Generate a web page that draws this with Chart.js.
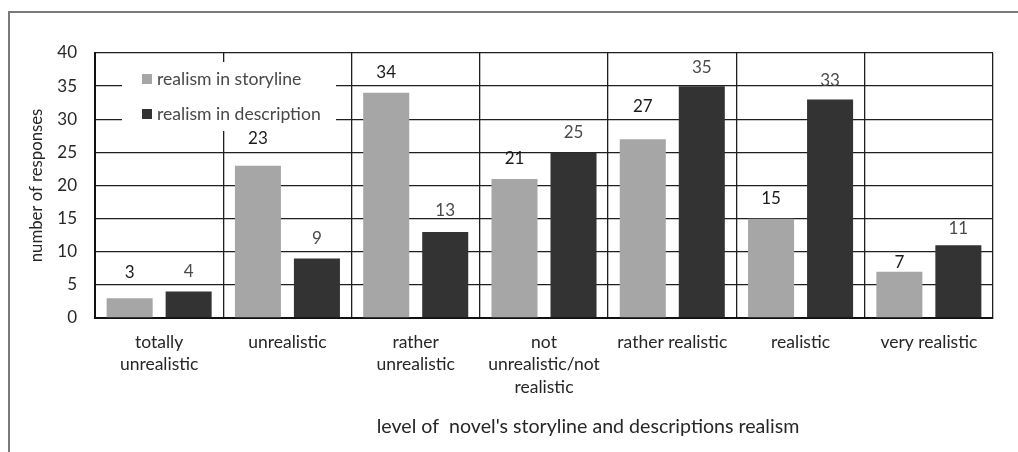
<!DOCTYPE html>
<html>
<head>
<meta charset="utf-8">
<script src="https://cdn.jsdelivr.net/npm/chart.js@4/dist/chart.umd.min.js"></script>
<style>
  html, body { margin: 0; padding: 0; background: #fff; }
  #wrap { position: relative; width: 1018px; height: 452px; }
  canvas { display: block; }
</style>
</head>
<body>
<div id="wrap"><canvas id="chart" width="1018" height="452"></canvas></div>
<script>
// Response categories along the x axis
const categories = [
  ["totally", "unrealistic"],
  "unrealistic",
  ["rather", "unrealistic"],
  ["not", "unrealistic/not", "realistic"],
  "rather realistic",
  "realistic",
  "very realistic"
];

// Number of responses per category
const storylineValues   = [3, 23, 34, 21, 27, 15, 7];
const descriptionValues = [4, 9, 13, 25, 35, 33, 11];

const seriesNames = ["realism in storyline", "realism in description"];

// y axis ticks
const yTicks = [0, 5, 10, 15, 20, 25, 30, 35, 40];

const yTitle = "number of responses";
const xTitle = "level of  novel's storyline and descriptions realism";

const FONT = "Lato, 'Open Sans', sans-serif";
const INK = "#262626";

// extra lift (px) of each value label above its bar, per category [storyline, description]
const labelLift = [[26, 20], [27, 20], [20, 21], [20, 20], [33, 19], [20, 19], [9, 17]];

const frame = {
  id: "frame",
  beforeDraw(chart) {
    const ctx = chart.ctx;
    ctx.save();
    ctx.fillStyle = "#fff";
    ctx.fillRect(0, 0, chart.width, chart.height);
    ctx.strokeStyle = "#7a7a7a";
    ctx.lineWidth = 2;
    ctx.beginPath();
    ctx.moveTo(9, chart.height);
    ctx.lineTo(9, 12);
    ctx.lineTo(chart.width, 12);
    ctx.stroke();
    ctx.restore();
  }
};

const valueLabels = {
  id: "valueLabels",
  afterDatasetsDraw(chart) {
    const ctx = chart.ctx;
    ctx.save();
    ctx.font = "17px " + FONT;
    ctx.textAlign = "center";
    ctx.textBaseline = "middle";
    chart.data.datasets.forEach((ds, di) => {
      const meta = chart.getDatasetMeta(di);
      ctx.fillStyle = di === 0 ? "#1a1a1a" : "#4a4a4a";
      meta.data.forEach((bar, i) => {
        ctx.fillText(String(ds.data[i]), bar.x, bar.y - labelLift[i][di]);
      });
    });
    ctx.restore();
  }
};

const innerLegend = {
  id: "innerLegend",
  afterDatasetsDraw(chart) {
    const ctx = chart.ctx;
    const a = chart.chartArea;
    const x0 = a.left + 27, y0 = a.top + 9, w = 214, h = 69;
    ctx.save();
    ctx.fillStyle = "#fff";
    ctx.fillRect(x0, y0, w, h);
    ctx.font = "17.6px " + FONT;
    ctx.textBaseline = "middle";
    ctx.textAlign = "left";
    chart.data.datasets.forEach((ds, i) => {
      const cy = y0 + 17 + i * 35;
      ctx.fillStyle = ds.backgroundColor;
      ctx.fillRect(x0 + 20, cy - 5, 10, 10);
      ctx.fillStyle = "#484848";
      ctx.fillText(ds.label, x0 + 35, cy);
    });
    ctx.restore();
  }
};

const axisTitleX = {
  id: "axisTitleX",
  afterDraw(chart) {
    const ctx = chart.ctx;
    const a = chart.chartArea;
    ctx.save();
    ctx.font = "19.6px " + FONT;
    ctx.fillStyle = INK;
    ctx.textAlign = "center";
    ctx.textBaseline = "middle";
    ctx.fillText(xTitle, (a.left + a.right) / 2 + 44, 427);
    ctx.restore();
  }
};

new Chart(document.getElementById("chart"), {
  type: "bar",
  data: {
    labels: categories,
    datasets: [
      { label: seriesNames[0], data: storylineValues, backgroundColor: "#a6a6a6" },
      { label: seriesNames[1], data: descriptionValues, backgroundColor: "#333333" }
    ]
  },
  options: {
    responsive: false,
    animation: false,
    devicePixelRatio: 1,
    categoryPercentage: 0.92,
    barPercentage: 0.78,
    layout: { padding: { top: 53, right: 25, left: 0, bottom: 0 } },
    plugins: { legend: { display: false }, tooltip: { enabled: false } },
    scales: {
      x: {
        offset: true,
        grid: { offset: true, color: "#1f1f1f", lineWidth: 1.3, drawTicks: false },
        border: { display: true, color: "#111", width: 2 },
        ticks: {
          color: INK, padding: 13, maxRotation: 0, autoSkip: false,
          font: { family: FONT, size: 17.5, lineHeight: 1.286 }
        },
        afterFit(scale) { scale.height = 134; }
      },
      y: {
        min: 0, max: 40,
        afterBuildTicks(scale) { scale.ticks = yTicks.map(v => ({ value: v })); },
        grid: { color: "#1f1f1f", lineWidth: 1.3, drawTicks: false },
        border: { display: true, color: "#111", width: 2 },
        ticks: { color: INK, padding: 18, font: { family: FONT, size: 17 } },
        title: {
          display: true, text: yTitle, color: INK,
          font: { family: FONT, size: 16.7 }, padding: { top: 27, bottom: 0 }
        },
        afterFit(scale) { scale.width = 95; }
      }
    }
  },
  plugins: [frame, valueLabels, innerLegend, axisTitleX]
});
</script>
</body>
</html>
